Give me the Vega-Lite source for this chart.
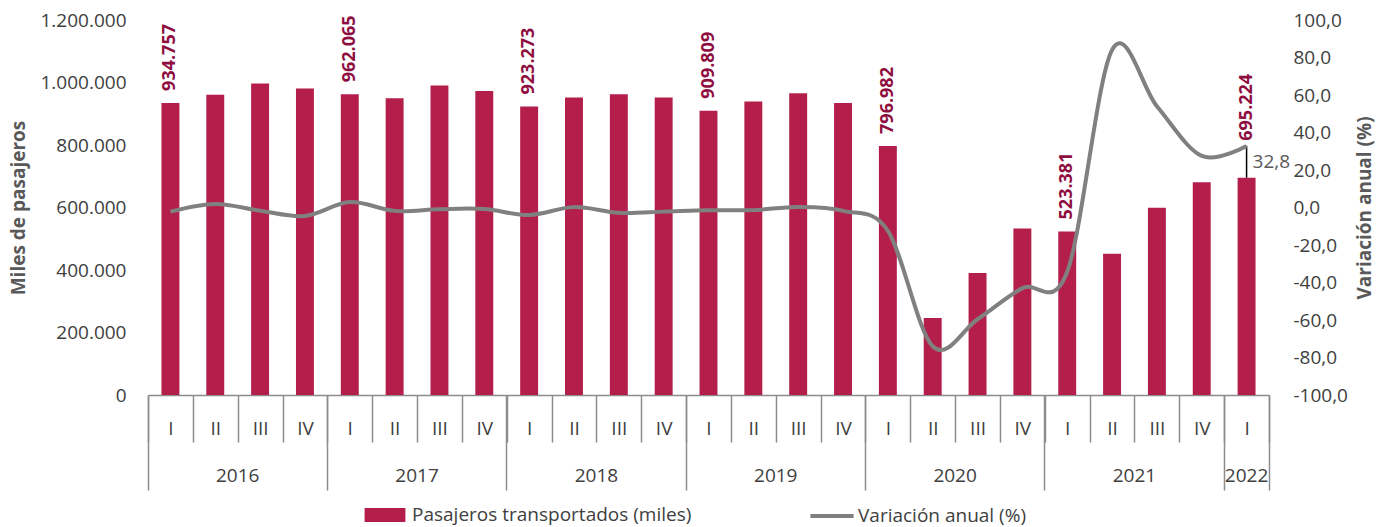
{
  "$schema": "https://vega.github.io/schema/vega-lite/v6.json",
  "width": 1121,
  "height": 375,
  "autosize": {"type": "none"},
  "padding": {"left": 148, "top": 20, "right": 118, "bottom": 132},
  "background": "white",
  "config": {
    "view": {"stroke": null},
    "font": "Open Sans",
    "locale": {"number": {"decimal": ",", "thousands": ".", "grouping": [3], "currency": ["", " €"], "minus": "-"}},
    "axis": {"labelFont": "Open Sans", "labelFontSize": 19, "labelColor": "#404040", "titleFont": "Open Sans", "titleFontSize": 19, "titleFontWeight": "bold", "titleColor": "#595959", "grid": false},
    "legend": {"labelFont": "Open Sans", "labelFontSize": 19, "labelColor": "#404040", "labelLimit": 0}
  },
  "data": {"values": [
    {"t": "2016 I", "q": "I", "pax": 934757, "var": -2.2},
    {"t": "2016 II", "q": "II", "pax": 961000, "var": 1.9},
    {"t": "2016 III", "q": "III", "pax": 996900, "var": -1.7},
    {"t": "2016 IV", "q": "IV", "pax": 980900, "var": -4.5},
    {"t": "2017 I", "q": "I", "pax": 962065, "var": 2.9},
    {"t": "2017 II", "q": "II", "pax": 949700, "var": -1.8},
    {"t": "2017 III", "q": "III", "pax": 990500, "var": -0.9},
    {"t": "2017 IV", "q": "IV", "pax": 973200, "var": -0.8},
    {"t": "2018 I", "q": "I", "pax": 923273, "var": -4.0},
    {"t": "2018 II", "q": "II", "pax": 952000, "var": 0.2},
    {"t": "2018 III", "q": "III", "pax": 962600, "var": -2.8},
    {"t": "2018 IV", "q": "IV", "pax": 952000, "var": -2.2},
    {"t": "2019 I", "q": "I", "pax": 909809, "var": -1.5},
    {"t": "2019 II", "q": "II", "pax": 939100, "var": -1.4},
    {"t": "2019 III", "q": "III", "pax": 965800, "var": 0.3},
    {"t": "2019 IV", "q": "IV", "pax": 934700, "var": -1.8},
    {"t": "2020 I", "q": "I", "pax": 796982, "var": -12.4},
    {"t": "2020 II", "q": "II", "pax": 246100, "var": -74.0},
    {"t": "2020 III", "q": "III", "pax": 390500, "var": -59.6},
    {"t": "2020 IV", "q": "IV", "pax": 532600, "var": -43.0},
    {"t": "2021 I", "q": "I", "pax": 523381, "var": -34.3},
    {"t": "2021 II", "q": "II", "pax": 452400, "var": 84.0},
    {"t": "2021 III", "q": "III", "pax": 599000, "var": 54.0},
    {"t": "2021 IV", "q": "IV", "pax": 681200, "var": 27.5},
    {"t": "2022 I", "q": "I", "pax": 695224, "var": 32.8}
  ]},
  "resolve": {"scale": {"y": "independent"}, "axis": {"x": "independent"}},
  "layer": [
    {
      "encoding": {
        "x": {"field": "t", "type": "ordinal", "sort": null,
          "scale": {"domain": ["2016 I","2016 II","2016 III","2016 IV","2017 I","2017 II","2017 III","2017 IV","2018 I","2018 II","2018 III","2018 IV","2019 I","2019 II","2019 III","2019 IV","2020 I","2020 II","2020 III","2020 IV","2021 I","2021 II","2021 III","2021 IV","2022 I"], "paddingInner": 0, "paddingOuter": 0},
          "axis": {"orient": "bottom", "title": null, "tickBand": "extent", "tickSize": 47, "tickColor": "#8c8c8c", "tickWidth": 1.5, "domainColor": "#8c8c8c", "domainWidth": 1.5, "labelAngle": 0, "labelBaseline": "middle", "labelPadding": -14, "labelExpr": "split(datum.value, ' ')[1]"}},
        "y": {"field": "pax", "type": "quantitative", "scale": {"domain": [0, 1200000]},
          "axis": {"title": "Miles de pasajeros", "values": [0, 200000, 400000, 600000, 800000, 1000000, 1200000], "format": ",.0f", "domain": false, "ticks": false, "labelPadding": 22, "titlePadding": 11}}
      },
      "layer": [
        {"mark": {"type": "bar", "width": {"band": 0.4}},
          "encoding": {"color": {"datum": "Pasajeros transportados (miles)", "type": "nominal", "scale": {"range": ["#B41E4B"]},
            "legend": {"orient": "none", "legendX": 224, "legendY": 482, "direction": "horizontal", "title": null, "symbolType": "M-1.7,-0.58H1.7V0.58H-1.7Z", "symbolSize": 576, "labelOffset": 14, "labelLimit": 0}}}},
        {"transform": [{"filter": "datum.q == 'I' && datum.t != '2022 I'"}],
          "mark": {"type": "text", "angle": 270, "align": "left", "baseline": "middle", "dx": 12, "fontSize": 18, "fontWeight": "bold", "color": "#8E0E3F"},
          "encoding": {"text": {"field": "pax", "format": ",.0f"}}},
        {"transform": [{"filter": "datum.t == '2022 I'"}],
          "mark": {"type": "text", "angle": 270, "align": "left", "baseline": "middle", "dx": 37, "fontSize": 18, "fontWeight": "bold", "color": "#8E0E3F"},
          "encoding": {"text": {"field": "pax", "format": ",.0f"}}},
        {"transform": [{"filter": "datum.t == '2022 I'"}],
          "mark": {"type": "rule", "color": "#000000", "strokeWidth": 1.5, "y2Offset": -32},
          "encoding": {"y2": {"field": "pax"}}}
      ]
    },
    {
      "encoding": {
        "x": {"field": "t", "type": "ordinal", "sort": null,
          "axis": {"orient": "bottom", "title": null, "values": ["2016 I","2017 I","2018 I","2019 I","2020 I","2021 I","2022 I"], "bandPosition": 0, "tickSize": 95, "tickColor": "#8c8c8c", "tickWidth": 1.5, "domain": false, "labelAngle": 0, "labelBaseline": "middle", "labelPadding": -15, "labelOffset": 67.26, "labelExpr": "datum.value == '2022 I' ? '' : slice(datum.value, 0, 4)"}},
        "y": {"field": "var", "type": "quantitative", "scale": {"domain": [-100, 100]},
          "axis": {"orient": "right", "title": "Variación anual (%)", "values": [-100, -80, -60, -40, -20, 0, 20, 40, 60, 80, 100], "format": ".1f", "domain": false, "ticks": false, "labelPadding": 24, "titleAngle": 270, "titleBaseline": "top", "titlePadding": 8}}
      },
      "layer": [
        {"mark": {"type": "line", "interpolate": "cardinal", "strokeWidth": 4},
          "encoding": {"stroke": {"datum": "Variación anual (%)", "type": "nominal", "scale": {"range": ["#808080"]},
            "legend": {"orient": "none", "legendX": 670, "legendY": 482, "direction": "horizontal", "title": null, "symbolType": "M-1.8,0H1.8", "symbolSize": 576, "symbolStrokeWidth": 4, "labelOffset": 12, "labelLimit": 0}}}},
        {"transform": [{"filter": "datum.t == '2022 I'"}],
          "mark": {"type": "text", "align": "left", "baseline": "middle", "dx": 6, "dy": 16, "fontSize": 19, "color": "#595959"},
          "encoding": {"text": {"field": "var", "format": ".1f"}}}
      ]
    },
    {
      "mark": {"type": "point", "opacity": 0},
      "encoding": {
        "x": {"field": "t", "type": "ordinal", "sort": null,
          "axis": {"orient": "bottom", "title": null, "values": ["2022 I"], "bandPosition": 1, "tickSize": 95, "tickColor": "#8c8c8c", "tickWidth": 1.5, "domain": false, "labelAngle": 0, "labelBaseline": "middle", "labelPadding": -15, "labelOffset": 0, "labelExpr": "slice(datum.value, 0, 4)"}}
      }
    }
  ]
}
